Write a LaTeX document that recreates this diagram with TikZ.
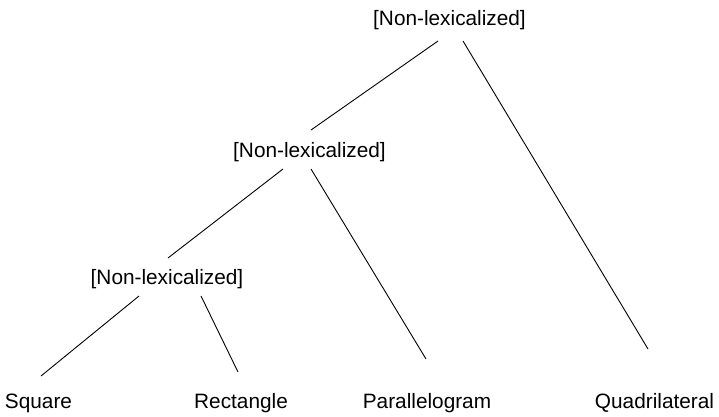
\documentclass[tikz,border=0pt]{standalone}
\usepackage{fontspec}
\setmainfont{Liberation Sans}
\usetikzlibrary{calc}
\begin{document}
\begin{tikzpicture}[x=1pt,y=1pt,
  lbl/.style={inner sep=0pt,anchor=base,font=\fontsize{20.8}{25}\selectfont},
  edge/.style={line width=0.9pt,black}]
\useasboundingbox (0,0) rectangle (719,416);
\node[lbl] (top) at (449.5,390) {[Non-lexicalized]};
\node[lbl] (mid) at (309.5,259) {[Non-lexicalized]};
\node[lbl] (low) at (167,131.5) {[Non-lexicalized]};
\node[lbl] (sq) at (38.5,8) {Square};
\node[lbl] (rect) at (241,8) {Rectangle};
\node[lbl] (par) at (427,8) {Parallelogram};
\node[lbl] (quad) at (654.5,8) {Quadrilateral};
\draw[edge] ($(top.base)+(-11.5,-15)$) -- ($(mid.base)+(1.5,27)$);
\draw[edge] ($(top.base)+(13.5,-15)$) -- ($(quad.base)+(-6.5,59)$);
\draw[edge] ($(mid.base)+(-26.5,-12)$) -- ($(low.base)+(1,26.5)$);
\draw[edge] ($(mid.base)+(1.5,-12)$) -- ($(par.base)+(-1,49)$);
\draw[edge] ($(low.base)+(-28,-11.5)$) -- ($(sq.base)+(2.5,32)$);
\draw[edge] ($(low.base)+(34,-11.5)$) -- ($(rect.base)+(-3,36)$);
\end{tikzpicture}
\end{document}
